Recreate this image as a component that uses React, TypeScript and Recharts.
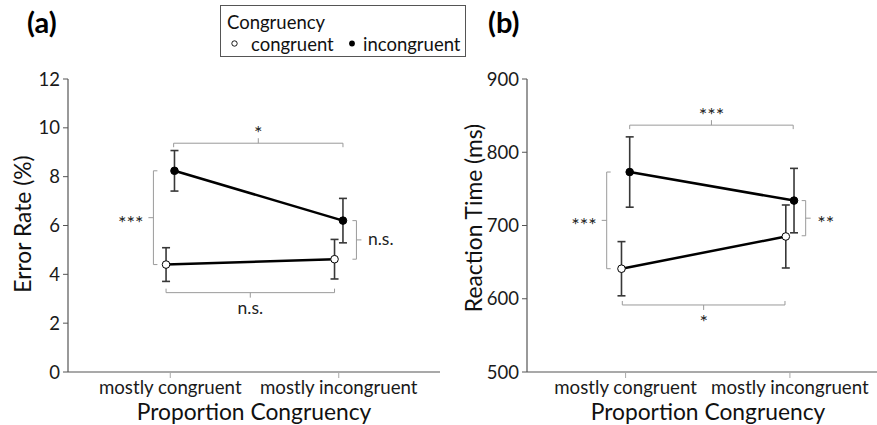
import React from 'react'
import { LineChart, Line, XAxis, YAxis, ErrorBar, ReferenceLine } from 'recharts'

const conditions = ['mostly congruent', 'mostly incongruent']

// (a) error rate in %, mean and SE per condition
const errCongruent = [4.4, 4.62]
const errCongruentSE = [0.69, 0.81]
const errIncongruent = [8.24, 6.2]
const errIncongruentSE = [0.83, 0.91]
const errTicks = [0, 2, 4, 6, 8, 10, 12]

// (b) reaction time in ms
const rtCongruent = [641, 685]
const rtCongruentSE = [37, 43]
const rtIncongruent = [773, 734]
const rtIncongruentSE = [48, 44]
const rtTicks = [500, 600, 700, 800, 900]

// significance brackets, in data units
const errBrackets = [
  { x1: 1.02, y1: 9.37, x2: 2.025, y2: 9.37, text: '*', side: 'top' },
  { x1: 0.975, y1: 3.25, x2: 1.975, y2: 3.25, text: 'n.s.', side: 'bottom' },
  { x1: 0.9, y1: 8.24, x2: 0.9, y2: 4.4, text: '***', side: 'left' },
  { x1: 2.105, y1: 6.2, x2: 2.105, y2: 4.62, text: 'n.s.', side: 'right' },
]
const rtBrackets = [
  { x1: 1.025, y1: 837, x2: 2.02, y2: 837, text: '***', side: 'top' },
  { x1: 0.98, y1: 591.5, x2: 1.97, y2: 591.5, text: '*', side: 'bottom' },
  { x1: 0.885, y1: 773, x2: 0.885, y2: 641, text: '***', side: 'left' },
  { x1: 2.096, y1: 734, x2: 2.096, y2: 686, text: '**', side: 'right' },
]

const FONT = "Lato, 'Noto Sans', sans-serif"
const DODGE = 0.025

const toPoints = (vals: number[], ses: number[], shift: number) =>
  vals.map((v, i) => ({ x: i + 1 + shift, y: v, se: ses[i] }))

const bracketShape = (side: string, text: string) => (p: any) => {
  const { x1, y1, x2, y2 } = p
  const end = 4
  const tick = 5
  const cx = (x1 + x2) / 2
  const cy = (y1 + y2) / 2
  const star = text.includes('*')
  // stars sit high in the font, so shift the baseline more for them
  const size = star ? 20 : 17.5
  const mid = star ? 11 : 4.4
  let d = ''
  let tx = cx
  let ty = cy
  let anchor: any = 'middle'
  if (side === 'top') {
    d = `M${x1},${y1 + end}V${y1}H${x2}V${y2 + end}M${cx},${cy}V${cy - tick}`
    ty = cy - 14 + mid
  } else if (side === 'bottom') {
    d = `M${x1},${y1 - end}V${y1}H${x2}V${y2 - end}M${cx},${cy}V${cy + tick}`
    ty = cy + (star ? 13.5 : 17) + mid
  } else if (side === 'left') {
    d = `M${x1 + end},${y1}H${x1}V${y2}H${x2 + end}M${cx},${cy}H${cx - tick}`
    tx = cx - 10
    ty = cy + 1 + mid
    anchor = 'end'
  } else {
    d = `M${x1 - end},${y1}H${x1}V${y2}H${x2 - end}M${cx},${cy}H${cx + tick}`
    tx = cx + 11.5
    ty = cy + 1 + mid
    anchor = 'start'
  }
  return (
    <g>
      <path d={d} fill="none" stroke="#9a9a9a" strokeWidth={1} />
      <text x={tx} y={ty} textAnchor={anchor} fontSize={size} fontFamily={FONT} fill="#222">
        {text}
      </text>
    </g>
  )
}

type PanelProps = {
  left: number
  width: number
  marginLeft: number
  domain: [number, number]
  yDomain: [number, number]
  yTicks: number[]
  cong: { x: number; y: number; se: number }[]
  incong: { x: number; y: number; se: number }[]
  brackets: typeof errBrackets
}

function Panel({ left, width, marginLeft, domain, yDomain, yTicks, cong, incong, brackets }: PanelProps) {
  return (
    <div style={{ position: 'absolute', left, top: 0 }}>
      <LineChart width={width} height={425} margin={{ top: 79, right: 0, bottom: 23, left: marginLeft }}>
        <XAxis
          type="number"
          dataKey="x"
          domain={domain}
          ticks={[1, 2]}
          interval={0}
          allowDataOverflow
          tickFormatter={(v: number) => conditions[v - 1]}
          axisLine={{ stroke: '#555', strokeWidth: 1.2 }}
          tickLine={{ stroke: '#aaa' }}
          tickSize={6}
          tickMargin={3}
          tick={{ fill: '#1a1a1a', fontSize: 18.7, fontFamily: FONT }}
          height={30}
        />
        <YAxis
          type="number"
          domain={yDomain}
          ticks={yTicks}
          interval={0}
          allowDataOverflow
          axisLine={{ stroke: '#555', strokeWidth: 1.2 }}
          tickLine={{ stroke: '#555' }}
          tickSize={5}
          tickMargin={3}
          tick={{ fill: '#1a1a1a', fontSize: 18.5, fontFamily: FONT }}
          width={60}
        />
        {brackets.map((b, i) => (
          <ReferenceLine
            key={i}
            segment={[{ x: b.x1, y: b.y1 }, { x: b.x2, y: b.y2 }]}
            ifOverflow="visible"
            shape={bracketShape(b.side, b.text)}
          />
        ))}
        <Line
          data={cong}
          dataKey="y"
          stroke="#000"
          strokeWidth={2.5}
          dot={{ r: 3.8, fill: '#fff', stroke: '#000', strokeWidth: 1 }}
          isAnimationActive={false}
        >
          <ErrorBar dataKey="se" width={4} stroke="#383838" strokeWidth={1.6} direction="y" isAnimationActive={false} />
        </Line>
        <Line
          data={incong}
          dataKey="y"
          stroke="#000"
          strokeWidth={2.5}
          dot={{ r: 3.8, fill: '#000', stroke: '#000', strokeWidth: 1 }}
          isAnimationActive={false}
        >
          <ErrorBar dataKey="se" width={4} stroke="#383838" strokeWidth={1.6} direction="y" isAnimationActive={false} />
        </Line>
      </LineChart>
    </div>
  )
}

export default function App() {
  return (
    <div style={{ position: 'absolute', left: 0, top: 0, width: 877, height: 425, background: '#fff', overflow: 'hidden' }}>
      <Panel
        left={0}
        width={440}
        marginLeft={8}
        domain={[0.393, 2.601]}
        yDomain={[0, 12]}
        yTicks={errTicks}
        cong={toPoints(errCongruent, errCongruentSE, -DODGE)}
        incong={toPoints(errIncongruent, errIncongruentSE, DODGE)}
        brackets={errBrackets}
      />
      <Panel
        left={440}
        width={437}
        marginLeft={27}
        domain={[0.4, 2.53]}
        yDomain={[500, 900]}
        yTicks={rtTicks}
        cong={toPoints(rtCongruent, rtCongruentSE, -DODGE)}
        incong={toPoints(rtIncongruent, rtIncongruentSE, DODGE)}
        brackets={rtBrackets}
      />
      <svg width={877} height={425} style={{ position: 'absolute', left: 0, top: 0, pointerEvents: 'none' }} fontFamily={FONT}>
        <text x={27} y={33} fontSize={29} fontWeight="bold" fill="#000">(a)</text>
        <text x={488} y={33} fontSize={29} fontWeight="bold" fill="#000">(b)</text>

        <rect x={220.5} y={5.5} width={245} height={51} fill="#fff" stroke="#555" strokeWidth={1} />
        <text x={227} y={29} fontSize={18.5} fill="#111">Congruency</text>
        <circle cx={234.5} cy={43.5} r={2.7} fill="#fff" stroke="#000" strokeWidth={0.9} />
        <text x={251} y={50.5} fontSize={18.5} fill="#111">congruent</text>
        <circle cx={352} cy={43.5} r={2.9} fill="#000" />
        <text x={363} y={50.5} fontSize={18.5} fill="#111">incongruent</text>

        <text transform="translate(31,224) rotate(-90)" textAnchor="middle" fontSize={22.8} fill="#111">Error Rate (%)</text>
        <text transform="translate(482,218) rotate(-90)" textAnchor="middle" fontSize={22.8} fill="#111">Reaction Time (ms)</text>
        <text x={254} y={420} textAnchor="middle" fontSize={22.8} fill="#111">Proportion Congruency</text>
        <text x={708} y={420} textAnchor="middle" fontSize={22.8} fill="#111">Proportion Congruency</text>
      </svg>
    </div>
  )
}
